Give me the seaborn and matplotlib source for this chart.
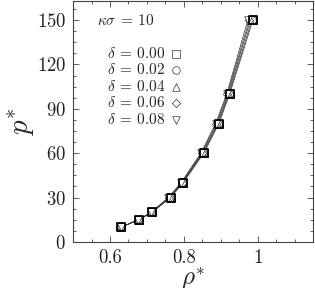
import numpy as np
import pandas as pd
import matplotlib
matplotlib.use("Agg")
import matplotlib.pyplot as plt
from matplotlib.ticker import MultipleLocator
import seaborn as sns

# presion reducida y densidades para cada delta
p_star = [10, 15, 20, 30, 40, 60, 80, 100, 150]
rho_d000 = [0.630, 0.679, 0.714, 0.764, 0.798, 0.854, 0.895, 0.924, 0.987]
rho_d002 = [0.630, 0.678, 0.713, 0.763, 0.797, 0.852, 0.893, 0.922, 0.984]
rho_d004 = [0.630, 0.678, 0.713, 0.762, 0.795, 0.850, 0.891, 0.920, 0.980]
rho_d006 = [0.630, 0.677, 0.712, 0.760, 0.794, 0.848, 0.888, 0.918, 0.977]
rho_d008 = [0.630, 0.676, 0.711, 0.758, 0.792, 0.846, 0.886, 0.916, 0.973]
deltas = ["0.00", "0.02", "0.04", "0.06", "0.08"]
markers = ["s", "o", "^", "D", "v"]
msizes = [30, 30, 30, 18, 30]

series = [rho_d000, rho_d002, rho_d004, rho_d006, rho_d008]

sns.set_style("ticks")
plt.rcParams["font.family"] = "serif"
plt.rcParams["font.serif"] = ["cmr10", "DejaVu Serif"]
plt.rcParams["mathtext.fontset"] = "cm"
plt.rcParams["axes.formatter.use_mathtext"] = True

fig = plt.figure(figsize=(3.15, 2.88), dpi=100)
ax = fig.add_axes([0.232, 0.16, 0.762, 0.837])

for rho, d, m, s in zip(series, deltas, markers, msizes):
    df = pd.DataFrame({"rho": rho, "p": p_star})
    sns.lineplot(data=df, x="rho", y="p", ax=ax, color="#333333", lw=0.5,
                 sort=False, legend=False)
    ax.scatter(df["rho"], df["p"], marker=m, s=s, facecolor="white",
               edgecolor="#333333", linewidth=0.5, zorder=3,
               label=r"$\delta\:=\:%s$" % d)

# marcador cuadrado mas grueso al frente
ax.scatter(rho_d000, p_star, marker="s", s=34, facecolor="none",
           edgecolor="black", linewidth=1.3, zorder=4)

ax.set_xlim(0.5, 1.15)
ax.set_ylim(0, 163)
ax.xaxis.set_minor_locator(MultipleLocator(0.05))
ax.yaxis.set_major_locator(MultipleLocator(30))
ax.yaxis.set_minor_locator(MultipleLocator(7.5))
ax.set_xticks([0.6, 0.8, 1.0])
ax.set_xticklabels(["0.6", "0.8", "1"])
ax.tick_params(which="both", direction="in", top=True, right=True,
               labelsize=13.5, width=0.6, colors="#444444",
               labelcolor="#222222", pad=5)
ax.tick_params(which="major", length=4)
ax.tick_params(which="minor", length=2.5)
for sp in ax.spines.values():
    sp.set_linewidth(0.8)
    sp.set_color("#444444")

ax.set_xlabel(r"$\rho^{*}$", fontsize=18, labelpad=-1)
ax.set_ylabel(r"$p^{*}$", fontsize=21, labelpad=0)

ax.text(0.1, 0.92, r"$\kappa\sigma\:=\:10$", fontsize=11, va="center",
        transform=ax.transAxes)
ax.legend(loc="upper left", bbox_to_anchor=(0.115, 0.84), frameon=False,
          markerfirst=False, fontsize=11, handletextpad=0.2,
          labelspacing=0.1, borderaxespad=0, handlelength=1.0)

plt.savefig("out.png", dpi=100)
